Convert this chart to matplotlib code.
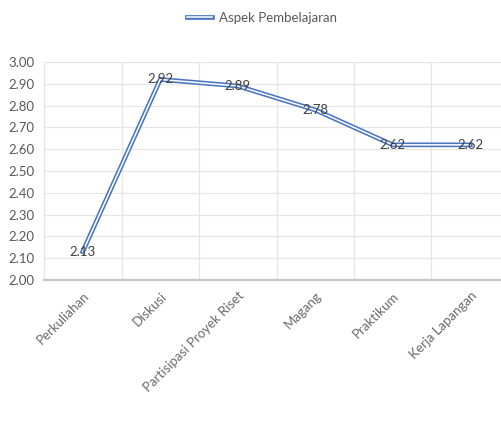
import matplotlib
matplotlib.use("Agg")
import matplotlib.pyplot as plt
import matplotlib.transforms as mtransforms
from matplotlib.ticker import MultipleLocator, FixedLocator

# data
categories = ["Perkuliahan", "Diskusi", "Partisipasi Proyek Riset",
              "Magang", "Praktikum", "Kerja Lapangan"]
values = [2.13, 2.92, 2.89, 2.78, 2.62, 2.62]
series_name = "Aspek Pembelajaran"

font = ["Lato", "DejaVu Sans"]
plt.rcParams["font.family"] = font

blue = "#4a75c2"

fig = plt.figure(figsize=(5.02, 4.32), dpi=100, facecolor="white")
# plot area runs a bit past the right edge, like the cropped original
ax = fig.add_axes([44 / 502, 152 / 432, 465 / 502, 218 / 432])

x = list(range(len(categories)))
outer, = ax.plot(x, values, color=blue, lw=3.4, solid_joinstyle="miter", zorder=3)
inner, = ax.plot(x, values, color="white", lw=1.1, solid_joinstyle="miter", zorder=4)

for xi, v in zip(x, values):
    ax.text(xi, v, f"{v:.2f}", ha="center", va="center", fontsize=9.5,
            color="#404040", zorder=5)

ax.set_xlim(-0.5, len(categories) - 0.5)
ax.set_ylim(2.0, 3.0)
ax.yaxis.set_major_locator(MultipleLocator(0.1))
ax.yaxis.set_major_formatter(lambda v, p: f"{v:.2f}")
ax.set_xticks(x)
ax.set_xticklabels(categories, rotation=45, ha="right", va="top",
                   rotation_mode="anchor", fontsize=9.5, color="#6a6a6a")
# nudge rotated labels a little to the right
shift = mtransforms.ScaledTranslation(5 / 100, 0, fig.dpi_scale_trans)
for lbl in ax.get_xticklabels():
    lbl.set_transform(lbl.get_transform() + shift)
ax.xaxis.set_minor_locator(FixedLocator([i + 0.5 for i in x]))
ax.tick_params(axis="y", length=0, pad=7, labelsize=9.5, labelcolor="#595959")
ax.tick_params(axis="x", which="both", length=0, pad=7)

ax.grid(axis="y", color="#e6e6e6", lw=0.9)
ax.grid(axis="x", which="minor", color="#e6e6e6", lw=0.9)
ax.set_axisbelow(True)

for s in ["top", "right"]:
    ax.spines[s].set_visible(False)
ax.spines["left"].set_color("#e6e6e6")
ax.spines["left"].set_linewidth(0.9)
ax.spines["bottom"].set_color("#c8c8c8")
ax.spines["bottom"].set_linewidth(1.6)

fig.legend([(outer, inner)], [series_name], loc="center",
           bbox_to_anchor=(262 / 502, 1 - 18 / 432), frameon=False,
           fontsize=9.5, labelcolor="#595959", handlelength=1.9,
           handletextpad=0.5)

fig.savefig("out.png", dpi=100, facecolor="white")
